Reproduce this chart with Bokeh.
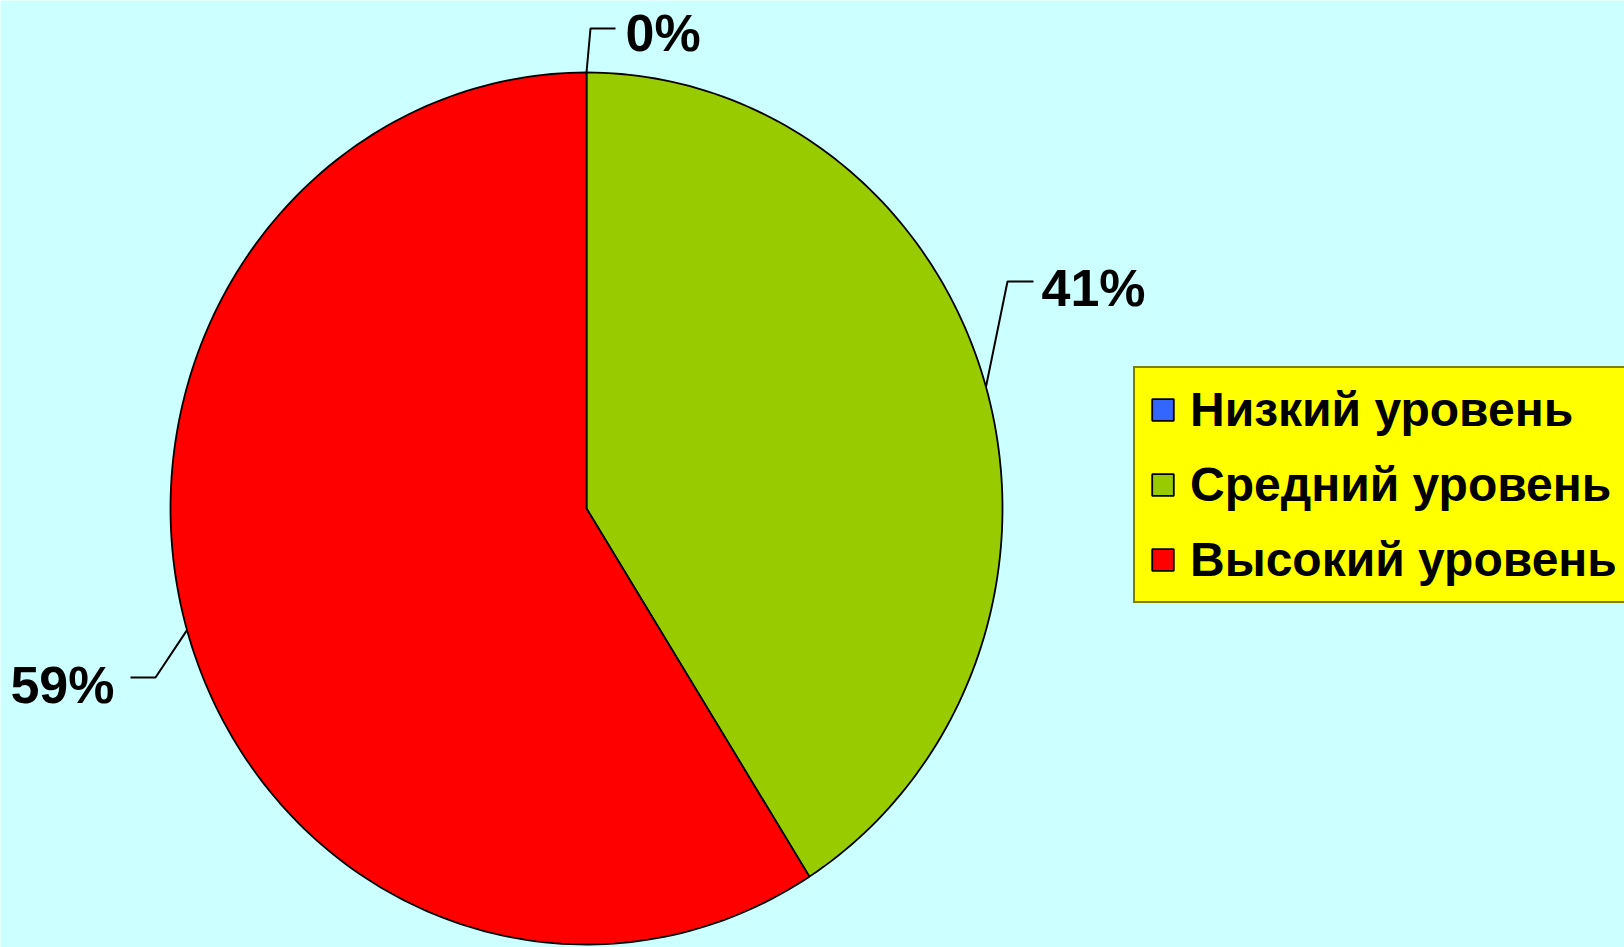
import numpy as np
from bokeh.plotting import figure
from bokeh.models import Range1d, Legend, LegendItem, ColumnDataSource
from bokeh.core.properties import value
from bokeh.embed import file_html
from bokeh.resources import INLINE

# ---- data ----
categories = ["Низкий уровень", "Средний уровень", "Высокий уровень"]
values = [0, 41, 59]
colors = ["#3366FF", "#99CC00", "#FF0000"]
labels = [f"{v}%" for v in values]

# ---- layout ----
W, H = 1624, 947
p = figure(width=W, height=H, x_range=Range1d(0, W), y_range=Range1d(H, 0),
           output_backend="svg", toolbar_location=None, min_border=0,
           x_axis_location=None, y_axis_location=None)
p.grid.visible = False
p.outline_line_color = None
p.background_fill_color = "#CCFFFF"
p.border_fill_color = "#CCFFFF"

cx, cy, rx, ry = 586, 508, 416, 436
total = float(sum(values))
start = np.pi / 2
xs, ys, mids = [], [], []
for v in values:
    sweep = 2 * np.pi * v / total
    end = start - sweep
    n = max(2, int(300 * v / total) + 2)
    t = np.linspace(start, end, n)
    xs.append([cx] + list(cx + rx * np.cos(t)))
    ys.append([cy] + list(cy - ry * np.sin(t)))
    mids.append((start + end) / 2)
    start = end

src = ColumnDataSource(dict(xs=xs, ys=ys, color=colors, label=categories))
r = p.patches("xs", "ys", source=src, fill_color="color", line_color="black", line_width=1.8)

# leader lines
elbows = [(590, 28), (1007, 281), (155, 677)]
ends = [(615, 28), (1033, 281), (130, 677)]
lx, ly = [], []
for m, e, f in zip(mids, elbows, ends):
    ax = cx + rx * np.cos(m)
    ay = cy - ry * np.sin(m)
    lx.append([ax, e[0], f[0]])
    ly.append([ay, e[1], f[1]])
p.multi_line(lx, ly, line_color="black", line_width=2)

# percentage labels
text_pos = [(625, 32), (1041, 287), (114, 684)]
aligns = ["left", "left", "right"]
for al in ("left", "right"):
    idx = [i for i, a in enumerate(aligns) if a == al]
    p.text(x=[text_pos[i][0] for i in idx], y=[text_pos[i][1] for i in idx],
           text=[labels[i] for i in idx], text_font=value("Liberation Sans"),
           text_font_style="bold", text_font_size="52px", text_color="black",
           text_align=al, text_baseline="alphabetic")

legend = Legend(items=[LegendItem(label=c, renderers=[r], index=i) for i, c in enumerate(categories)],
                location=(1133, 344))
legend.background_fill_color = "#FFFF00"
legend.background_fill_alpha = 1.0
legend.border_line_color = "black"
legend.border_line_width = 2
legend.label_text_font = "Liberation Sans"
legend.label_text_font_style = "bold"
legend.label_text_font_size = "48px"
legend.label_text_color = "black"
legend.glyph_width = 27
legend.glyph_height = 27
legend.label_height = 50
legend.spacing = 20
legend.padding = 14
legend.margin = 0
legend.label_standoff = 14
p.add_layout(legend)

open("out.html", "w").write(file_html(p, INLINE))
